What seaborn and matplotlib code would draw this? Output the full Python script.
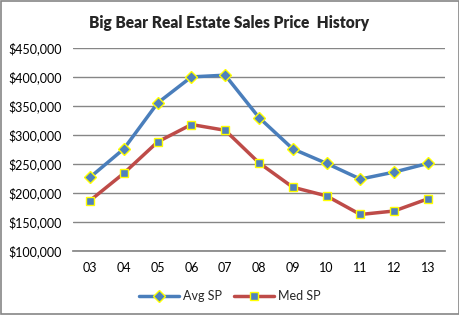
import matplotlib
matplotlib.use("Agg")
import matplotlib.pyplot as plt
import pandas as pd
import seaborn as sns
from matplotlib.patches import Rectangle
from matplotlib.ticker import FuncFormatter

YEARS = ["03", "04", "05", "06", "07", "08", "09", "10", "11", "12", "13"]
AVG_SP = [227000, 276000, 355000, 400000, 403000, 330000, 276000, 251000, 224000, 236000, 251000]
MED_SP = [187000, 234000, 288000, 318000, 308000, 252000, 210000, 195000, 163000, 169000, 190000]

sns.set_theme(style="white")
plt.rcParams["font.family"] = ["Lato", "DejaVu Sans"]

df = pd.DataFrame({
    "year": YEARS * 2,
    "price": AVG_SP + MED_SP,
    "series": ["Avg SP"] * len(YEARS) + ["Med SP"] * len(YEARS),
})

fig = plt.figure(figsize=(4.6, 3.15), dpi=100)
ax = fig.add_axes([0.159, 0.203, 0.808, 0.645])

sns.lineplot(
    data=df, x="year", y="price", hue="series", style="series",
    palette={"Avg SP": "#4A7EBB", "Med SP": "#BE4B48"},
    markers={"Avg SP": "D", "Med SP": "s"}, dashes=False,
    linewidth=2.5, markersize=6, markerfacecolor="#4F81BD",
    markeredgecolor="#FFFF00", markeredgewidth=1.0, sort=False, ax=ax,
)

ax.set_xlim(-0.5, len(YEARS) - 0.5)
ax.set_ylim(100000, 450000)
ax.set_yticks(range(100000, 450001, 50000))
ax.yaxis.set_major_formatter(FuncFormatter(lambda v, _: f"${v:,.0f}"))
ax.grid(axis="y", color="#868686", linewidth=1)
ax.set_axisbelow(True)
for side in ["top", "right", "left"]:
    ax.spines[side].set_visible(False)
ax.spines["bottom"].set_color("#868686")
ax.tick_params(axis="both", length=0, labelsize=9, colors="black")
ax.tick_params(axis="y", pad=8)
ax.tick_params(axis="x", pad=8)
ax.set_xlabel("")
ax.set_ylabel("")

handles, labels = ax.get_legend_handles_labels()
ax.get_legend().remove()
fig.legend(handles, labels, loc="center", bbox_to_anchor=(0.5, 0.06), ncol=2,
           frameon=False, fontsize=9, handlelength=3.2, columnspacing=1.0, handletextpad=0.3)

fig.suptitle("Big Bear Real Estate Sales Price  History", x=0.498, y=0.952,
             fontsize=11.2, fontweight="heavy")

fig.patches.append(Rectangle((0.003, 0.003), 0.994, 0.994, transform=fig.transFigure,
                             fill=False, edgecolor="#868686", linewidth=1.2))

fig.savefig("out.png", dpi=100)
